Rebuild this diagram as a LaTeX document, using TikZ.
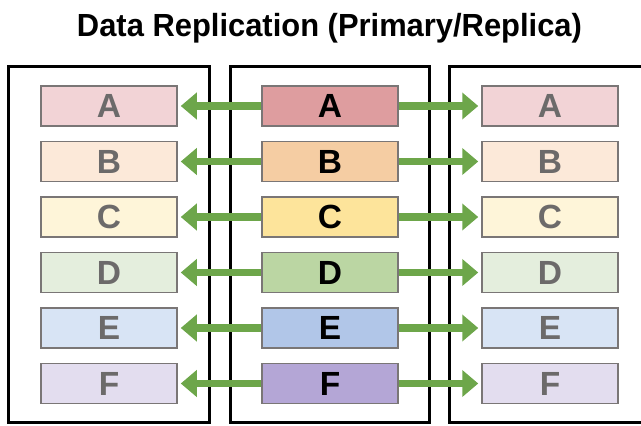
\documentclass[tikz,border=0pt]{standalone}
\usepackage{fontspec}
\setmainfont{Liberation Sans}
\usetikzlibrary{arrows.meta}
\definecolor{edgegray}{HTML}{7A7676}
\definecolor{lettergray}{HTML}{6C6A6A}
\definecolor{arrowgreen}{HTML}{6DA64A}
\definecolor{pA}{HTML}{DE9D9F}
\definecolor{pB}{HTML}{F5CDA3}
\definecolor{pC}{HTML}{FDE49B}
\definecolor{pD}{HTML}{BBD6A3}
\definecolor{pE}{HTML}{B1C6E8}
\definecolor{pF}{HTML}{B4A6D6}
\definecolor{rA}{HTML}{F2D3D6}
\definecolor{rB}{HTML}{FCE9D9}
\definecolor{rC}{HTML}{FEF5D9}
\definecolor{rD}{HTML}{E4EEDD}
\definecolor{rE}{HTML}{D8E4F5}
\definecolor{rF}{HTML}{E3DDEF}
\tikzset{
  outerbox/.style={draw=black, line width=3pt},
  cell/.style={draw=edgegray, line width=1.5pt, minimum width=136pt, minimum height=40pt,
    inner sep=0pt, font=\fontsize{33.5}{33.5}\selectfont\bfseries},
  primcell/.style={cell, text=black},
  repcell/.style={cell, text=lettergray},
  reparrow/.style={draw=arrowgreen, line width=7.5pt, -{Triangle[length=16pt,width=26pt]}, shorten >=3pt}
}
\begin{document}
\begin{tikzpicture}[x=1pt, y=-1pt]
\useasboundingbox (0,0) rectangle (641,426);
\clip (0,0) rectangle (641,426);
\node[anchor=base, inner sep=0pt] (title) at (329.5,36.5)
  {\resizebox{505pt}{\height}{\fontsize{32}{32}\selectfont\bfseries Data Replication (Primary/Replica)}};
\draw[outerbox] (8,66) rectangle (209,422);
\draw[outerbox] (230,66) rectangle (429,422);
\draw[outerbox] (650,66) -- (449,66) -- (449,422) -- (650,422);
\foreach \L [count=\i from 0] in {A,B,C,D,E,F} {
  \pgfmathsetmacro{\yc}{106+\i*55.5}
  \node[repcell, fill=r\L] (l\L) at (109,\yc) {\L};
  \node[primcell, fill=p\L] (m\L) at (330,\yc) {\L};
  \node[repcell, fill=r\L] (r\L) at (550,\yc) {\L};
  \draw[reparrow] (m\L.west) -- (l\L.east);
  \draw[reparrow] (m\L.east) -- (r\L.west);
}
\end{tikzpicture}
\end{document}
